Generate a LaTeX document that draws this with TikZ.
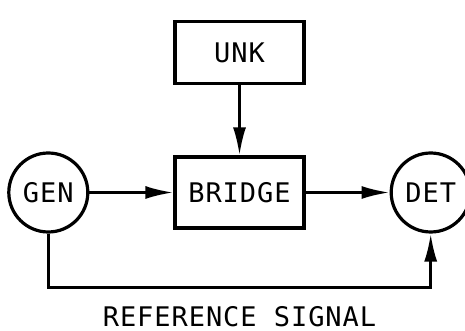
\documentclass[tikz,border=0pt]{standalone}
\usepackage{fontspec}
\newfontfamily\blockfont[LetterSpace=3.5]{DejaVu Sans Mono}
\usetikzlibrary{arrows.meta, positioning}

\begin{document}
\begin{tikzpicture}[
        x=1pt, y=1pt,
        node distance=70pt and 84pt,
        block/.style={rectangle, draw, line width=3.2pt, minimum width=129pt, minimum height=71pt, font=\fontsize{27}{30}\selectfont\blockfont},
        ring/.style={circle, draw, line width=3.2pt, minimum size=79pt, inner sep=0pt, font=\fontsize{27}{30}\selectfont\blockfont},
        arr/.style={-{Latex[length=28pt, width=13pt]}, line width=2.8pt},
    ]
    \useasboundingbox (0,0) rectangle (465,331);

    % Bridge and unknown
    \node[block] (bridge) at (239.5,138.5) {BRIDGE};
    \node[block, minimum height=62pt, above=of bridge] (unk) {UNK};

    % Generator and detector
    \node[ring, left=of bridge] (gen) {GEN};
    \node[ring, right=of bridge] (det) {DET};

    % Signal paths
    \draw[arr] (unk) -- (bridge);
    \draw[arr] (gen) -- (bridge);
    \draw[arr] (bridge) -- (det);
    \draw[arr] (gen.south) -- ++(0,-54) -| (det.south)
        node[pos=0.25, below=17pt, inner sep=0pt, text depth=0pt, font=\fontsize{27}{30}\selectfont\blockfont] (refsig) {REFERENCE SIGNAL};
\end{tikzpicture}
\end{document}
